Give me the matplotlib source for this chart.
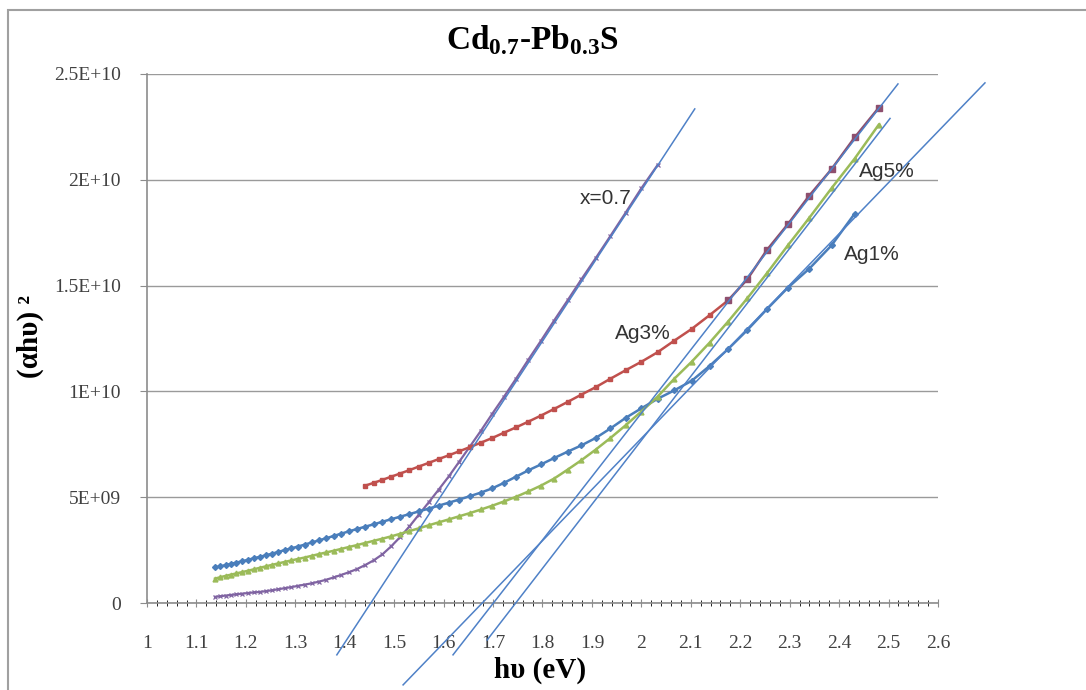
import matplotlib
matplotlib.use('Agg')
import matplotlib.pyplot as plt
import numpy as np
from matplotlib.patches import Rectangle

# energia (eV) - grade comum das series
energia = [1.1376, 1.1481, 1.1589, 1.1698, 1.1810, 1.1923, 1.2039, 1.2157, 1.2277, 1.2400,
           1.2525, 1.2653, 1.2784, 1.2917, 1.3053, 1.3191, 1.3333, 1.3478, 1.3626, 1.3778,
           1.3933, 1.4091, 1.4253, 1.4419, 1.4588, 1.4762, 1.4940, 1.5122, 1.5309, 1.5500,
           1.5696, 1.5897, 1.6104, 1.6316, 1.6533, 1.6757, 1.6986, 1.7222, 1.7465, 1.7714,
           1.7971, 1.8235, 1.8507, 1.8788, 1.9077, 1.9375, 1.9683, 2.0000, 2.0328, 2.0667,
           2.1017, 2.1379, 2.1754, 2.2143, 2.2545, 2.2963, 2.3396, 2.3846, 2.4314, 2.4800]

# (ahv)^2 em unidades de 1E9
x07 = [0.29, 0.32, 0.35, 0.38, 0.41, 0.44, 0.47, 0.50, 0.52, 0.56,
       0.60, 0.65, 0.70, 0.75, 0.81, 0.87, 0.93, 1.01, 1.10, 1.21,
       1.33, 1.46, 1.61, 1.80, 2.02, 2.30, 2.68, 3.12, 3.62, 4.18,
       4.75, 5.35, 5.98, 6.68, 7.40, 8.15, 8.95, 9.75, 10.6, 11.5,
       12.4, 13.35, 14.3, 15.3, 16.3, 17.35, 18.45, 19.6, 20.7]

ag1 = [1.68, 1.73, 1.79, 1.85, 1.91, 1.97, 2.04, 2.11, 2.18, 2.25,
       2.33, 2.41, 2.50, 2.58, 2.67, 2.76, 2.86, 2.96, 3.06, 3.17,
       3.28, 3.39, 3.50, 3.61, 3.72, 3.84, 3.96, 4.08, 4.20, 4.33,
       4.46, 4.60, 4.74, 4.89, 5.05, 5.22, 5.42, 5.68, 5.97, 6.27,
       6.55, 6.85, 7.15, 7.45, 7.80, 8.25, 8.75, 9.20, 9.65, 10.05,
       10.5, 11.2, 12.0, 12.9, 13.9, 14.9, 15.8, 16.9, 18.4]

ag5 = [1.15, 1.22, 1.28, 1.34, 1.40, 1.46, 1.52, 1.59, 1.66, 1.73,
       1.80, 1.87, 1.94, 2.01, 2.08, 2.15, 2.23, 2.31, 2.39, 2.47,
       2.56, 2.65, 2.74, 2.84, 2.94, 3.04, 3.15, 3.27, 3.40, 3.53,
       3.67, 3.81, 3.95, 4.10, 4.25, 4.42, 4.60, 4.80, 5.02, 5.27,
       5.55, 5.88, 6.30, 6.75, 7.25, 7.80, 8.40, 9.05, 9.75, 10.6,
       11.4, 12.3, 13.3, 14.4, 15.6, 16.9, 18.2, 19.6, 21.0, 22.6]

ag3 = [5.55, 5.68, 5.82, 5.97, 6.12, 6.28, 6.45, 6.62, 6.80, 6.98,
       7.17, 7.37, 7.58, 7.80, 8.05, 8.30, 8.57, 8.86, 9.17, 9.50,
       9.85, 10.2, 10.6, 11.0, 11.4, 11.85, 12.4, 12.95, 13.6, 14.3,
       15.3, 16.7, 17.9, 19.25, 20.5, 22.0, 23.4]
ag3_inicio = 23  # primeira energia da serie Ag3%

# retas de ajuste (extrapolacao) - pontos extremos
reta_x07 = ([1.384, 2.108], [-2.45, 23.35])
reta_ag1 = ([1.518, 2.695], [-3.87, 24.58])
reta_ag3 = ([1.619, 2.519], [-2.45, 24.53])
reta_ag5 = ([1.688, 2.503], [-1.75, 22.90])

yticks = [0, 5e9, 1e10, 1.5e10, 2e10, 2.5e10]
ytick_labels = ['0', '5E+09', '1E+10', '1.5E+10', '2E+10', '2.5E+10']
xticks = [1, 1.1, 1.2, 1.3, 1.4, 1.5, 1.6, 1.7, 1.8, 1.9, 2, 2.1, 2.2, 2.3, 2.4, 2.5, 2.6]
xtick_labels = ['1', '1.1', '1.2', '1.3', '1.4', '1.5', '1.6', '1.7', '1.8', '1.9',
                '2', '2.1', '2.2', '2.3', '2.4', '2.5', '2.6']

AZUL = '#4A7EBB'
VERMELHO = '#C0504D'
VERDE = '#9BBB59'
ROXO = '#8064A2'
MALVA = '#8E4F6E'
RETA = '#4F81C7'

plt.rcParams['font.family'] = ['Liberation Serif', 'DejaVu Serif']
plt.rcParams['mathtext.fontset'] = 'custom'
plt.rcParams['mathtext.rm'] = 'Liberation Serif'
plt.rcParams['mathtext.bf'] = 'Liberation Serif:bold'

fig = plt.figure(figsize=(10.86, 6.9), dpi=100)
ax = fig.add_axes([147 / 1086, 87 / 690, 791 / 1086, 529 / 690])

e = np.array(energia)
esc = 1e9

ax.plot(e[:len(x07)], np.array(x07) * esc, color=ROXO, lw=1.6, marker='x',
        ms=3.5, mew=0.9, zorder=3)
ax.plot(e[:len(ag1)], np.array(ag1) * esc, color=AZUL, lw=1.8, marker='D',
        ms=3, zorder=3)
ax.plot(e[:len(ag5)], np.array(ag5) * esc, color=VERDE, lw=1.8, marker='^',
        ms=3.5, zorder=3)
e3 = e[ag3_inicio:]
y3 = np.array(ag3) * esc
corte = 29
ax.plot(e3[:corte + 1], y3[:corte + 1], color=VERMELHO, lw=1.8, marker='s',
        ms=3.5, zorder=3)
ax.plot(e3[corte:], y3[corte:], color=MALVA, lw=1.8, marker='s',
        ms=4, zorder=3)

for rx, ry in (reta_x07, reta_ag1, reta_ag3, reta_ag5):
    ax.plot(rx, np.array(ry) * esc, color=RETA, lw=1.1, zorder=4, clip_on=False)

ax.set_xlim(1, 2.6)
ax.set_ylim(0, 2.5e10)
ax.set_yticks(yticks)
ax.set_yticklabels(ytick_labels)
ax.set_xticks(xticks)
ax.set_xticklabels(xtick_labels)
ax.set_xticks(np.arange(1, 2.6001, 0.02), minor=True)
ax.tick_params(axis='both', labelsize=14, labelcolor='#404040', colors='#8c8c8c')
ax.tick_params(axis='x', which='major', direction='inout', length=6, pad=20)
ax.tick_params(axis='x', which='minor', direction='inout', length=4)
ax.tick_params(axis='y', which='major', direction='out', length=5, pad=14)

ax.grid(axis='y', color='#9a9a9a', lw=1.0)
ax.set_axisbelow(True)
for lado in ('top', 'right'):
    ax.spines[lado].set_visible(False)
for lado in ('left', 'bottom'):
    ax.spines[lado].set_color('#8c8c8c')
    ax.spines[lado].set_linewidth(1.2)

fig.text(532 / 1086, 1 - 40 / 690, r'Cd$_{\mathbf{0.7}}$-Pb$_{\mathbf{0.3}}$S',
         fontsize=24, fontweight='bold', ha='center', va='center')
fig.text(540 / 1086, 1 - 670 / 690, 'hυ (eV)', fontsize=21, fontweight='bold',
         ha='center', va='center')
fig.text(30 / 1086, 1 - 337 / 690, '(αhυ) ²', fontsize=21, fontweight='bold',
         rotation=90, ha='center', va='center')

# rotulos das curvas
rot = dict(fontsize=15, color='#333333', family=['Liberation Sans', 'DejaVu Sans'],
           ha='center', va='center', zorder=5)
ax.text(1.928, 1.91e10, 'x=0.7', **rot)
ax.text(2.497, 2.04e10, 'Ag5%', **rot)
ax.text(2.466, 1.646e10, 'Ag1%', **rot)
ax.text(2.003, 1.274e10, 'Ag3%', **rot)

# moldura do grafico
fig.patches.append(Rectangle((8 / 1086, -0.05), 1.2, 1 - 10 / 690 + 0.05,
                             transform=fig.transFigure, fill=False,
                             edgecolor='#a0a0a0', lw=1.5))

fig.savefig('out.png', dpi=100)
